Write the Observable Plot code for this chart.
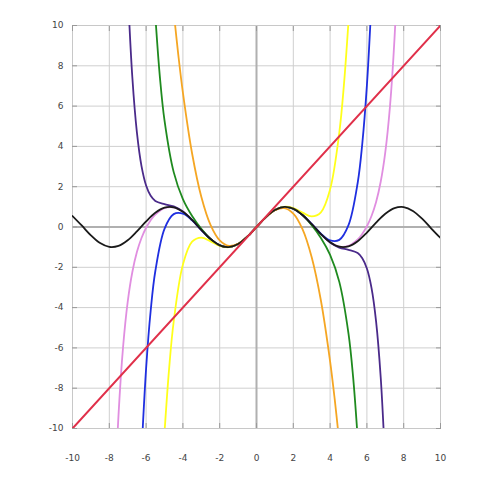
<!DOCTYPE html>
<html><head><meta charset="utf-8">
<script src="https://cdn.jsdelivr.net/npm/d3@7"></script>
<script src="https://cdn.jsdelivr.net/npm/@observablehq/plot@0.6"></script>
<style>body{margin:0;background:#fff;} #c{width:480px;height:480px;}</style>
</head><body><div id="c"></div>
<script>
const ticks = [-10,-8,-6,-4,-2,0,2,4,6,8,10];

const sinX = [-10,-9.5,-9,-8.5,-8,-7.5,-7,-6.5,-6,-5.5,-5,-4.5,-4,-3.5,-3,-2.5,-2,-1.5,-1,-0.5,0,0.5,1,1.5,2,2.5,3,3.5,4,4.5,5,5.5,6,6.5,7,7.5,8,8.5,9,9.5,10];
const sinY = [0.544,0.075,-0.412,-0.798,-0.989,-0.938,-0.657,-0.215,0.279,0.706,0.959,0.978,0.757,0.351,-0.141,-0.598,-0.909,-0.997,-0.841,-0.479,0,0.479,0.841,0.997,0.909,0.598,0.141,-0.351,-0.757,-0.978,-0.959,-0.706,-0.279,0.215,0.657,0.938,0.989,0.798,0.412,-0.075,-0.544];

const t1X = [-10,10];
const t1Y = [-10,10];

const t3X = [-4.5,-4.25,-4,-3.5,-3,-2.5,-2,-1.5,-1,-0.5,0,0.5,1,1.5,2,2.5,3,3.5,4,4.25,4.5];
const t3Y = [10.688,8.545,6.667,3.646,1.5,0.104,-0.667,-0.9375,-0.833,-0.479,0,0.479,0.833,0.9375,0.667,-0.104,-1.5,-3.646,-6.667,-8.545,-10.688];

const t5X = [-5,-4.75,-4.5,-4,-3.5,-3,-2.5,-2,-1.5,-1,-0.5,0,0.5,1,1.5,2,2.5,3,3.5,4,4.5,4.75,5];
const t5Y = [-10.21,-7.04,-4.69,-1.867,-0.731,-0.525,-0.71,-0.933,-1.001,-0.842,-0.479,0,0.479,0.842,1.001,0.933,0.71,0.525,0.731,1.867,4.69,7.04,10.21];

const t7X = [-5.5,-5.25,-5,-4.5,-4,-3.5,-3,-2.5,-2,-1.5,-1,-0.5,0,0.5,1,1.5,2,2.5,3,3.5,4,4.5,5,5.25,5.5];
const t7Y = [10.496,7.442,5.293,2.724,1.384,0.546,-0.091,-0.589,-0.908,-0.997,-0.841,-0.479,0,0.479,0.841,0.997,0.908,0.589,0.091,-0.546,-1.384,-2.724,-5.293,-7.442,-10.496];

const t9X = [-6.25,-6,-5.75,-5.5,-5,-4.5,-4,-3.5,-3,-2.5,-2,-1.5,-1,-0.5,0,0.5,1,1.5,2,2.5,3,3.5,4,4.5,5,5.5,5.75,6,6.25];
const t9Y = [-11.22,-7.028,-4.145,-2.195,-0.089,0.639,0.662,0.328,-0.145,-0.599,-0.909,-0.997,-0.841,-0.479,0,0.479,0.841,0.997,0.909,0.599,0.145,-0.328,-0.662,-0.639,0.089,2.195,4.145,7.028,11.22];

const t11X = [-7,-6.75,-6.5,-6.25,-6,-5.75,-5.5,-5,-4.5,-4,-3.5,-3,-2.5,-2,-1.5,-1,-0.5,0,0.5,1,1.5,2,2.5,3,3.5,4,4.5,5,5.5,5.75,6,6.25,6.5,6.75,7];
const t11Y = [11.842,7.454,4.692,3.02,2.061,1.546,1.295,1.134,1.023,0.767,0.353,-0.141,-0.598,-0.909,-0.997,-0.841,-0.479,0,0.479,0.841,0.997,0.909,0.598,0.141,-0.353,-0.767,-1.023,-1.134,-1.295,-1.546,-2.061,-3.02,-4.692,-7.454,-11.842];

const t13X = [-7.75,-7.5,-7.25,-7,-6.75,-6.5,-6.25,-6,-5.75,-5.5,-5,-4.5,-4,-3.5,-3,-2.5,-2,-1.5,-1,-0.5,0,0.5,1,1.5,2,2.5,3,3.5,4,4.5,5,5.5,5.75,6,6.25,6.5,6.75,7,7.25,7.5,7.75];
const t13Y = [-14.58,-9.35,-5.94,-3.717,-2.244,-1.245,-0.546,-0.036,0.34,0.618,0.938,0.973,0.756,0.351,-0.141,-0.598,-0.909,-0.997,-0.841,-0.479,0,0.479,0.841,0.997,0.909,0.598,0.141,-0.351,-0.756,-0.973,-0.938,-0.618,-0.34,0.036,0.546,1.245,2.244,3.717,5.94,9.35,14.58];

const series = [
  {name:"sin", xs:sinX, ys:sinY, color:"#1a1a1a"},
  {name:"T13", xs:t13X, ys:t13Y, color:"#e08ee0"},
  {name:"T11", xs:t11X, ys:t11Y, color:"#4a2a8a"},
  {name:"T9", xs:t9X, ys:t9Y, color:"#1f2fe0"},
  {name:"T7", xs:t7X, ys:t7Y, color:"#1f8a1f"},
  {name:"T5", xs:t5X, ys:t5Y, color:"#ffff1a"},
  {name:"T3", xs:t3X, ys:t3Y, color:"#f5a623"},
  {name:"T1", xs:t1X, ys:t1Y, color:"#e0304a"}
];
const order = ["T13","T11","T9","T7","T5","T3","sin","T1"];
const rows = [];
for (const s of series) s.xs.forEach((x,i)=>rows.push({s:s.name, x, y:s.ys[i], c:s.color}));

const chart = Plot.plot({
  width: 480, height: 480,
  marginTop: 25, marginBottom: 52, marginLeft: 72, marginRight: 40,
  style: {fontFamily: "DejaVu Sans", fontSize: "9px", color: "#444", background: "#fff"},
  x: {domain: [-10,10]},
  y: {domain: [-10,10]},
  marks: [
    Plot.ruleX(ticks, {stroke: "#cfcfcf", strokeWidth: 1}),
    Plot.ruleY(ticks, {stroke: "#cfcfcf", strokeWidth: 1}),
    Plot.ruleX([0], {stroke: "#b0b0b0", strokeWidth: 2}),
    Plot.ruleY([0], {stroke: "#b0b0b0", strokeWidth: 2}),
    Plot.frame({stroke: "#c8c8c8"}),
    Plot.axisX({ticks, tickSize: 0, tickPadding: 26, tickFormat: d=>String(d), label: null}),
    Plot.axisY({ticks, tickSize: 0, tickPadding: 9, tickFormat: d=>String(d), label: null}),
    Plot.axisY({ticks, anchor: "left", tickSize: -5, tickFormat: () => "", label: null, stroke: "#999"}),
    Plot.axisY({ticks, anchor: "right", tickSize: -5, tickFormat: () => "", label: null, stroke: "#999"}),
    Plot.axisX({ticks, anchor: "top", tickSize: -5, tickFormat: () => "", label: null, stroke: "#999"}),
    Plot.axisX({ticks, anchor: "bottom", tickSize: -5, tickFormat: () => "", label: null, stroke: "#999"}),
    ...order.map(n => Plot.line(rows.filter(r=>r.s===n), {x:"x", y:"y", stroke: series.find(s=>s.name===n).color, strokeWidth: n==="T1"?2:1.8, curve:"catmull-rom", clip:true}))
  ]
});
document.getElementById("c").appendChild(chart);
</script></body></html>
